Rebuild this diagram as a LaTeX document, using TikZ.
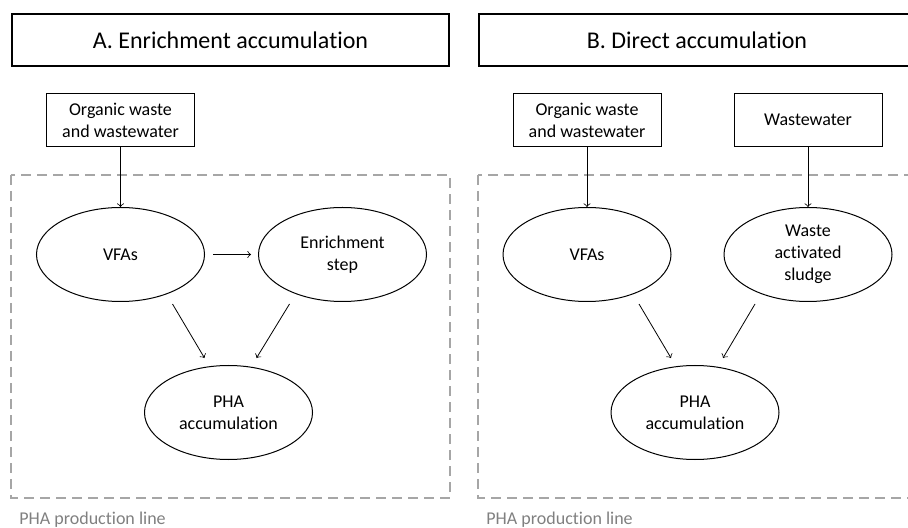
\documentclass[tikz,border=0pt]{standalone}
\usepackage{fontspec}
\setmainfont{Carlito}[Ligatures=NoCommon]
\usetikzlibrary{shapes, positioning}
\definecolor{frame}{RGB}{166,166,166}
\definecolor{note}{RGB}{128,128,128}

\begin{document}
\begin{tikzpicture}[x=1pt, y=1pt,
        main/.style={rectangle, draw, line width=0.5pt, minimum width=74pt, minimum height=26.5pt, inner sep=0pt, align=center, font=\fontsize{9}{11}\selectfont},
        head/.style={rectangle, draw, line width=1pt, minimum width=218.5pt, minimum height=26pt, inner sep=0pt, font=\fontsize{12}{14}\selectfont},
        oval/.style={ellipse, draw, line width=0.5pt, minimum width=84pt, minimum height=47pt, inner sep=0pt, align=center, font=\fontsize{9}{11}\selectfont},
        zone/.style={draw=frame, line width=1pt, dash pattern=on 5pt off 3pt},
        tag/.style={anchor=west, inner sep=0pt, text=note, font=\fontsize{9}{11}\selectfont}]
        \useasboundingbox (0,0) rectangle (454,-264);
        \clip (0,0) rectangle (454,-264);
        % A. Enrichment accumulation
        \node[head] (1) at (115.25,-20) {A. Enrichment accumulation};
        \node[main] (2) [below right=13pt and 17.5pt of 1.south west] {Organic waste\\and wastewater};
        \node[oval] (3) [below=30pt of 2] {VFAs};
        \node[oval] (4) [right=26.5pt of 3] {Enrichment\\step};
        \node[oval] (5) [below=31.5pt of 3.south, xshift=54pt] {PHA\\accumulation};
        \draw[zone] (5.5,-87.5) rectangle (225,-249);
        \node[tag] (t1) at (9.5,-260) {PHA production line};
        \draw[->] (2) -- (3);
        \draw[->, shorten <=4pt, shorten >=3.5pt] (3) -- (4);
        \draw[->] ([shift={(26pt,-1pt)}]3.south) -- ([shift={(-12pt,3.5pt)}]5.north);
        \draw[->] ([shift={(-26.5pt,-1pt)}]4.south) -- ([shift={(14pt,3.5pt)}]5.north);
        % B. Direct accumulation
        \node[head] (6) at (348.5,-20) {B. Direct accumulation};
        \node[main] (7) [below right=13pt and 17.5pt of 6.south west] {Organic waste\\and wastewater};
        \node[main] (8) [right=36pt of 7] {Wastewater};
        \node[oval] (9) [below=30pt of 7] {VFAs};
        \node[oval] (10) [below=30pt of 8] {Waste\\activated\\sludge};
        \node[oval] (11) [below=31.5pt of 9.south, xshift=54pt] {PHA\\accumulation};
        \draw[zone] (239,-87.5) rectangle (458.5,-249);
        \node[tag] (t2) at (243,-260) {PHA production line};
        \draw[->] (7) -- (9);
        \draw[->] (8) -- (10);
        \draw[->] ([shift={(26pt,-1pt)}]9.south) -- ([shift={(-12pt,3.5pt)}]11.north);
        \draw[->] ([shift={(-26.5pt,-1pt)}]10.south) -- ([shift={(14pt,3.5pt)}]11.north);
    \end{tikzpicture}
\end{document}
